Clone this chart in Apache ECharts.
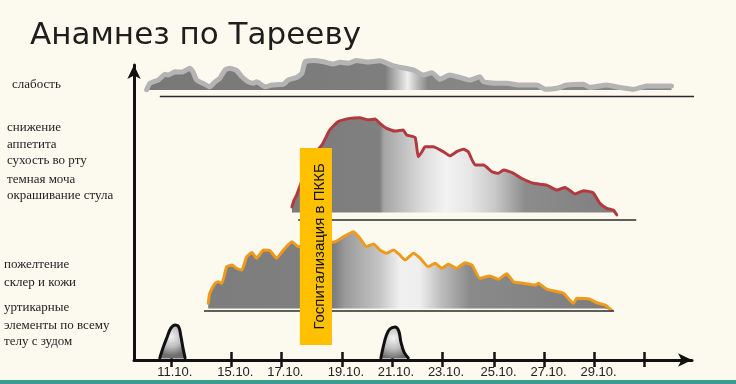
<!DOCTYPE html>
<html><head><meta charset="utf-8">
<script src="https://cdn.jsdelivr.net/npm/echarts@6/dist/echarts.min.js"></script>
<style>html,body{margin:0;padding:0;background:#fcfaef;} #c{width:736px;height:384px;}</style>
</head><body><div id="c"></div>
<script>
// ---- data ----
const tickValues = [0, 11.5, 21, 32.5, 42, 51.5, 61.5, 71, 80.5, 90];
const tickLabels = ['11.10.','15.10.','17.10.','19.10.','21.10.','23.10.','25.10.','27.10.','29.10.',''];

const title = 'Анамнез по Тарееву';
const hospitalLabel = 'Госпитализация в ПККБ';
const hospitalRange = [[24.5, 5.1], [30.6, 71.9]];

const labelsRow1 = ['слабость'];
const labelsRow2 = ['снижение', 'аппетита', 'сухость во рту', 'темная моча', 'окрашивание стула'];
const labelsRow3 = ['пожелтение', 'склер и кожи'];
const labelsRow4 = ['уртикарные', 'элементы по всему', 'телу с зудом'];

const weakness = [[-4.6,91.6],[-4.0,93.8],[-2.4,94.9],[-1.1,96.9],[-0.5,96.6],[0.8,97.7],[2.1,97.6],[3.6,98.9],[4.2,97.7],[4.9,94.9],[6.1,93.8],[7.4,92.6],[8.4,94.3],[9.3,95.5],[10.3,98.3],[11.2,98.9],[12.5,98.1],[13.5,96.0],[14.7,94.3],[15.7,93.8],[16.3,94.3],[17.3,93.2],[17.9,92.6],[19.2,93.2],[21.4,93.5],[22.3,94.9],[23.9,95.8],[24.9,97.2],[25.5,101.1],[27.1,101.5],[29.0,101.1],[30.9,100.3],[32.1,100.9],[33.7,100.6],[35.3,101.5],[37.2,101.0],[39.7,101.4],[42.3,99.7],[46.1,98.3],[48.0,96.6],[49.6,97.4],[51.1,95.2],[53.0,96.6],[54.9,95.8],[56.8,94.9],[58.7,96.0],[59.4,94.3],[61.6,93.8],[63.8,93.8],[66.3,93.2],[69.5,93.2],[71.1,91.8],[73.3,92.1],[75.2,93.2],[78.4,93.5],[79.6,92.4],[82.8,93.2],[85.3,92.4],[87.9,91.8],[90.4,92.9],[95.1,92.9]];
const weaknessBase = [[-2.1,89.3],[100.9,89.3]];

const appetite = [[23.0,51.9],[23.4,54.2],[23.9,55.9],[26.4,67.8],[28.7,72.9],[30.2,78.0],[31.8,80.8],[34.0,81.9],[35.9,82.1],[37.5,81.4],[38.8,81.7],[39.7,80.2],[41.0,78.5],[42.6,77.6],[44.1,78.0],[44.8,76.3],[46.4,75.4],[47.0,68.9],[47.7,70.6],[48.3,72.3],[49.8,72.3],[51.8,70.6],[53.0,69.2],[54.3,70.6],[55.6,71.4],[56.5,70.6],[57.8,66.1],[59.4,66.1],[61.0,63.8],[62.2,63.3],[63.2,64.4],[65.1,63.3],[66.6,61.6],[68.9,59.9],[71.4,59.3],[73.3,57.6],[74.9,58.5],[76.8,56.3],[78.4,57.4],[80.2,56.7],[81.5,53.1],[82.8,51.4],[84.1,50.8],[84.7,49.2]];
const appetiteBase = [[24.2,47.5],[88.4,47.5]];

const jaundice = [[7.1,19.2],[7.4,22.7],[8.4,26.0],[9.0,26.5],[9.7,26.0],[10.6,31.6],[11.6,32.2],[12.5,31.1],[13.5,30.5],[14.4,35.0],[15.4,36.4],[16.3,34.5],[17.6,37.3],[18.8,37.1],[20.1,34.5],[21.4,37.3],[23.0,40.1],[24.2,38.4],[27.6,39.3],[31.2,40.1],[32.8,41.8],[34.7,43.5],[35.9,41.3],[37.2,38.4],[38.5,39.3],[39.7,37.3],[41.0,36.2],[42.3,37.3],[43.5,35.6],[44.5,33.9],[46.1,36.2],[47.3,34.6],[48.9,31.6],[50.2,32.8],[51.5,31.1],[52.7,32.5],[54.3,31.1],[55.9,33.0],[57.2,32.2],[58.7,27.7],[60.6,28.5],[62.2,27.4],[63.8,29.2],[65.1,26.5],[67.0,26.0],[69.2,25.4],[69.8,26.0],[71.4,24.0],[73.3,23.2],[74.6,22.6],[76.5,19.2],[77.1,20.9],[79.6,20.6],[80.9,19.4],[82.5,18.6],[83.7,16.9]];
const jaundiceBase = [[6.3,16.6],[84.2,16.6]];

const urticaria1 = [[-2.1,0.7],[-1.5,4.1],[-0.7,7.8],[0.0,10.8],[0.8,11.9],[1.5,11.2],[1.9,8.1],[2.3,4.1],[2.7,0.7]];
const urticaria2 = [[39.9,0.7],[40.3,4.1],[40.9,8.1],[41.6,10.5],[42.6,11.2],[43.3,9.8],[43.7,6.1],[44.3,2.7],[45.1,0.7]];

// ---- chart ----
const chart = echarts.init(document.getElementById('c'), null, {renderer: 'canvas'});

function hGrad(data, stops) {
  const xs = data.map(d => d[0]);
  const a = Math.min(...xs), b = Math.max(...xs);
  return new echarts.graphic.LinearGradient(0, 0, 1, 0,
    stops.map(([x, c]) => ({offset: Math.max(0, Math.min(1, (x - a) / (b - a))), color: c})));
}
const blobFill = new echarts.graphic.RadialGradient(0.45, 0.35, 0.75, [
  {offset: 0, color: '#f2f2f2'}, {offset: 0.55, color: '#bdbdbd'}, {offset: 1, color: '#6e6e6e'}]);

function area(data, origin, lineColor, lineWidth, fill, smooth) {
  return {type: 'line', data, symbol: 'none', clip: false, silent: true, smooth: smooth || 0,
    lineStyle: {color: lineColor, width: lineWidth, join: 'round', cap: 'round'},
    areaStyle: {origin, color: fill, opacity: 1}};
}
function base(data) {
  return {type: 'line', data, symbol: 'none', clip: false, silent: true,
    lineStyle: {color: '#2a2a2a', width: 1.5}};
}

const textStyle = (x, y, t, font) => ({type: 'text', x, y,
  style: {text: t, font, fill: '#1e1e1e', verticalAlign: 'middle'}});
const serif = '13px "Liberation Serif"';
const graphics = [
  {type: 'rect', shape: {x: 0, y: 380, width: 736, height: 4}, style: {fill: '#3b9d8f'}},
  textStyle(30, 36, title, '31px "DejaVu Sans"'),
  textStyle(12, 85, labelsRow1[0], serif),
];
[128, 145, 161, 180, 196].forEach((y, i) => graphics.push(textStyle(7, y, labelsRow2[i], serif)));
[265, 283].forEach((y, i) => graphics.push(textStyle(4, y, labelsRow3[i], serif)));
[308, 326, 342].forEach((y, i) => graphics.push(textStyle(4, y, labelsRow4[i], serif)));

const tickLine = {color: '#111', width: 2.5};
chart.setOption({
  animation: false,
  backgroundColor: '#fcfaef',
  grid: {left: 134, right: 44, top: 65, bottom: 24, containLabel: false, outerBoundsMode: 'none'},
  xAxis: [{
    type: 'value', min: -7, max: 99, position: 'bottom',
    splitLine: {show: false},
    axisLine: {show: true, onZero: false, symbol: ['none', 'arrow'], symbolSize: [10, 14],
      lineStyle: {color: '#111', width: 3}},
    axisTick: {show: true, customValues: tickValues, length: 7, lineStyle: tickLine},
    axisLabel: {show: true, customValues: tickValues, margin: 6, color: '#222',
      fontFamily: 'Liberation Sans', fontSize: 13, padding: [0, 0, 0, 8],
      formatter: v => tickLabels[tickValues.indexOf(v)] || ''}
  }, {
    type: 'value', min: -7, max: 99, position: 'bottom',
    splitLine: {show: false}, axisLine: {show: false}, axisLabel: {show: false},
    axisTick: {show: true, inside: true, customValues: tickValues, length: 8, lineStyle: tickLine}
  }],
  yAxis: {
    type: 'value', min: 0, max: 100,
    splitLine: {show: false}, axisTick: {show: false}, axisLabel: {show: false},
    axisLine: {show: true, onZero: false, symbol: ['none', 'arrow'], symbolSize: [10, 14],
      lineStyle: {color: '#111', width: 3}}
  },
  series: [
    area(weakness, 91.5, '#b4b4b4', 5, hGrad(weakness, [[-5, '#787878'], [40.7, '#7e7e7e'], [43.5, '#c8c8c8'], [45.0, '#eeeeee'], [46.6, '#c0c0c0'], [48.8, '#858585'], [96, '#888888']]), 0.15),
    base(weaknessBase),
    area(appetite, 50.0, '#b3393f', 3, hGrad(appetite, [[23, '#7b7b7b'], [39.7, '#808080'], [40.5, '#a5a5a5'], [47.3, '#d8d8d8'], [52.1, '#f3f3f3'], [56.8, '#e6e6e6'], [61.6, '#c8c8c8'], [67.3, '#8c8c8c'], [85, '#7f7f7f']]), 0.15),
    base(appetiteBase),
    area(jaundice, 17.5, '#ef9a1c', 3, hGrad(jaundice, [[7, '#7d7d7d'], [31.2, '#7f7f7f'], [33.1, '#9a9a9a'], [39.7, '#c5c5c5'], [43.5, '#f0f0f0'], [47.3, '#eeeeee'], [51.1, '#c0c0c0'], [56.8, '#8a8a8a'], [84, '#7c7c7c']]), 0.15),
    base(jaundiceBase),
    area(urticaria1, 0.5, '#111', 3, blobFill, 0.4),
    area(urticaria2, 0.5, '#111', 3, blobFill, 0.4),
    {type: 'line', data: [], silent: true, z: 10,
      markArea: {silent: true, z: 10,
        itemStyle: {color: '#ffc000', opacity: 1},
        label: {show: true, position: 'inside', rotate: 90, color: '#111',
          fontFamily: 'Liberation Sans', fontSize: 15, offset: [0, 4]},
        data: [[{coord: hospitalRange[0], name: hospitalLabel}, {coord: hospitalRange[1]}]]}}
  ],
  graphic: graphics
});
</script></body></html>
